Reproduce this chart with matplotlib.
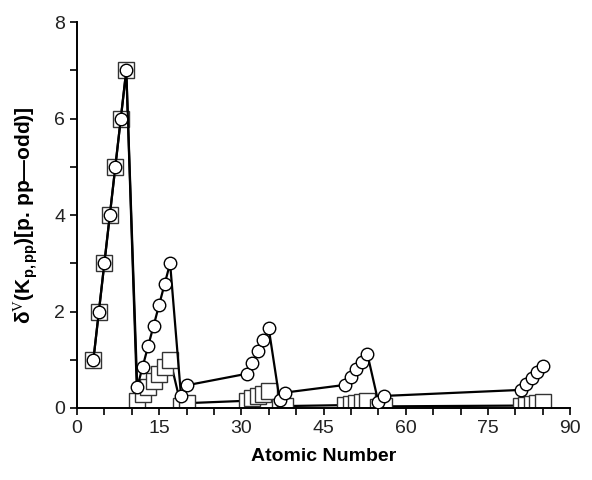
import matplotlib
matplotlib.use("Agg")
import matplotlib.pyplot as plt
from matplotlib.ticker import MultipleLocator

plt.rcParams['font.family'] = ['Liberation Sans', 'DejaVu Sans']
plt.rcParams['mathtext.fontset'] = 'custom'
plt.rcParams['mathtext.rm'] = 'Liberation Serif'
plt.rcParams['mathtext.bf'] = 'Liberation Sans:bold'
plt.rcParams['mathtext.it'] = 'Liberation Sans:italic'

# Atomic numbers of the plotted elements
atomic_number = [3, 4, 5, 6, 7, 8, 9,
                 11, 12, 13, 14, 15, 16, 17,
                 19, 20, 31, 32, 33, 34, 35,
                 37, 38, 49, 50, 51, 52, 53,
                 55, 56, 81, 82, 83, 84, 85]

# Circle series
circle_values = [1, 2, 3, 4, 5, 6, 7,
                 0.43, 0.86, 1.29, 1.71, 2.14, 2.57, 3.0,
                 0.24, 0.47, 0.71, 0.94, 1.18, 1.41, 1.65,
                 0.16, 0.32, 0.48, 0.64, 0.80, 0.96, 1.12,
                 0.125, 0.25, 0.375, 0.50, 0.625, 0.75, 0.875]

# Square series
square_values = [1, 2, 3, 4, 5, 6, 7,
                 0.14, 0.29, 0.43, 0.57, 0.71, 0.86, 1.0,
                 0.05, 0.10, 0.15, 0.20, 0.25, 0.30, 0.35,
                 0.02, 0.04, 0.06, 0.08, 0.10, 0.12, 0.14,
                 0.017, 0.034, 0.05, 0.07, 0.085, 0.10, 0.12]

x_ticks = [0, 15, 30, 45, 60, 75, 90]
y_ticks = [0, 2, 4, 6, 8]

fig = plt.figure(figsize=(5.92, 4.8), dpi=100)
ax = fig.add_axes([0.130, 0.150, 0.833, 0.804])

ax.plot(atomic_number, square_values, '-', color='black', lw=1.6,
        marker='s', ms=11.5, mfc='white', mec='#333333', mew=1.0, zorder=2)
ax.plot(atomic_number, circle_values, '-', color='black', lw=1.6,
        marker='o', ms=9, mfc='white', mec='black', mew=1.0, zorder=3)

ax.set_xlim(0, 90)
ax.set_ylim(0, 8)
ax.set_xticks(x_ticks)
ax.set_yticks(y_ticks)
ax.xaxis.set_minor_locator(MultipleLocator(5))
ax.yaxis.set_minor_locator(MultipleLocator(1))
ax.tick_params(which='both', direction='out', length=5, width=1.2, labelsize=14,
               labelcolor='#222222')
ax.spines['top'].set_visible(False)
ax.spines['right'].set_visible(False)
ax.spines['left'].set_linewidth(1.4)
ax.spines['bottom'].set_linewidth(1.4)

ax.set_xlabel('Atomic Number', fontsize=14, fontweight='bold', labelpad=8)
ax.set_ylabel(r'δ$^{\mathrm{V}}$(K$_{\mathbf{p,pp}}$)[p. pp—odd)]',
              fontsize=15, fontweight='bold', labelpad=10)

fig.savefig('out.png', dpi=100)
